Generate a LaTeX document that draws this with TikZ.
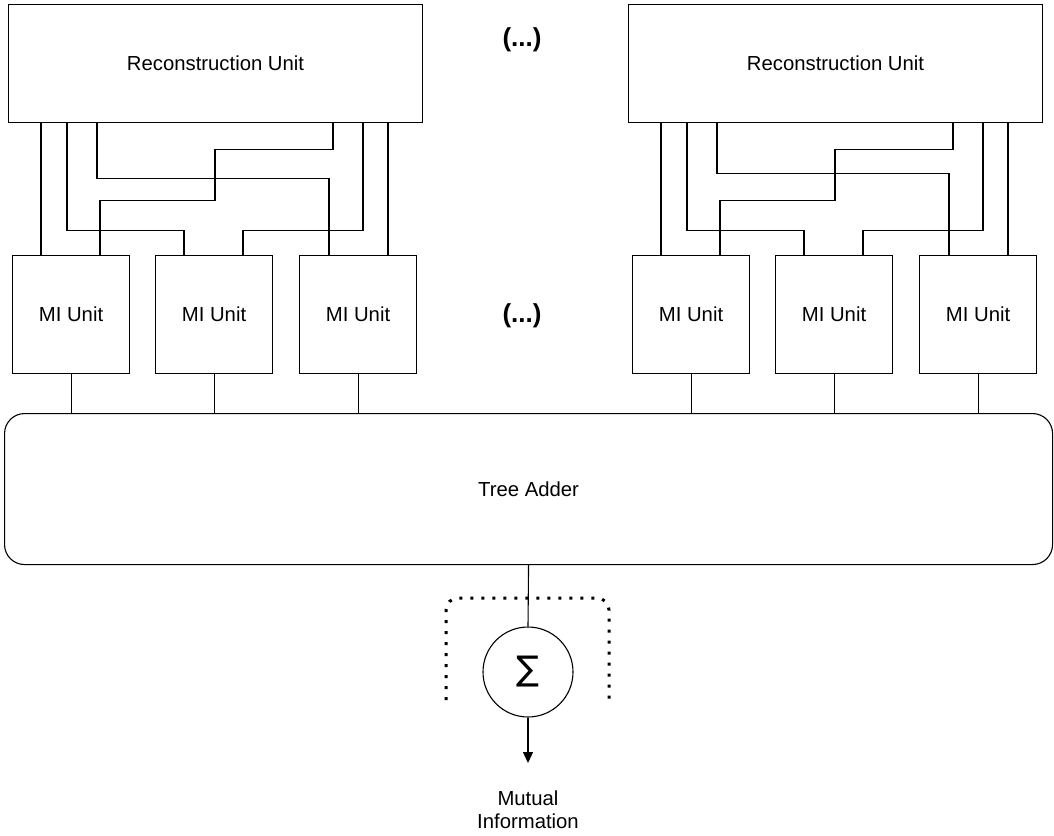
\documentclass[tikz,border=0pt]{standalone}
\usepackage{fontspec}
\setmainfont{Liberation Sans}
\newfontfamily\symfont{DejaVu Sans}
\usetikzlibrary{arrows.meta,calc}
\begin{document}
\begin{tikzpicture}[x=1pt,y=-1pt,
  line width=1.1pt,
  txt/.style={font=\fontsize{20.3}{24}\selectfont},
  rubox/.style={draw, txt, minimum width=414pt, minimum height=118pt, anchor=north west, inner sep=0pt},
  mibox/.style={draw, txt, minimum width=117pt, minimum height=118pt, anchor=north west, inner sep=0pt},
  dots/.style={font=\fontsize{26}{30}\selectfont\bfseries},
  wire/.style={line width=1.1pt},
  dotline/.style={line width=3pt, dash pattern=on 3pt off 8pt},
]
\useasboundingbox (0,0) rectangle (1054,835);

% Reconstruction units
\node[rubox] (rua) at (8,4) {Reconstruction Unit};
\node[rubox] (rub) at (628,4) {Reconstruction Unit};
\node[dots] (dotsa) at (522,40) {(...)};

% MI units
\node[mibox] (mia1) at (12,255) {MI Unit};
\node[mibox] (mia2) at (155,255) {MI Unit};
\node[mibox] (mia3) at (299,255) {MI Unit};
\node[mibox] (mib1) at (632,255) {MI Unit};
\node[mibox] (mib2) at (775,255) {MI Unit};
\node[mibox] (mib3) at (919,255) {MI Unit};
\node[dots] (dotsb) at (522,316) {(...)};

% Tree adder
\node[draw, txt, rounded corners=20pt, minimum width=1048pt, minimum height=151pt, anchor=north west, inner sep=0pt] (ta) at (4,413) {Tree Adder};

% Wiring
\foreach \u/\m in {a/55, b/50} {
  \path (ru\u.south west) ++(33,0) coordinate (p1) ++(26,0) coordinate (p2) ++(30,0) coordinate (p3)
        ++(236,0) coordinate (p4) ++(30,0) coordinate (p5) ++(25,0) coordinate (p6);
  \draw[wire] (p1) -- (p1 |- mi\u1.north);
  \draw[wire] (p2) -- ++(0,107) -| ([xshift=29pt]mi\u2.north west);
  \draw[wire] (p3) -- ++(0,\m) -| ([xshift=30pt]mi\u3.north west);
  \draw[wire] (p4) -- ++(0,26) -- ++(-118,0) -- ++(0,51) -| ([xshift=88pt]mi\u1.north west);
  \draw[wire] (p5) -- ++(0,107) -| ([xshift=88pt]mi\u2.north west);
  \draw[wire] (p6) -- (p6 |- mi\u3.north);
  \foreach \k in {1,2,3} {
    \draw[wire] (mi\u\k.south) -- (mi\u\k.south |- ta.north);
  }
}

% Summation
\node[draw, circle, minimum size=90pt, inner sep=0pt, line width=1.1pt] (sum) at (528,672) {\symfont\fontsize{34}{36}\selectfont\raisebox{1pt}{∑}};
\draw[wire] (ta.south) -- (sum.north);
\coordinate (out) at (528,763);
\draw[wire, -{Triangle[length=11pt,width=10pt]}] (sum.south) -- (out);
\node[txt, align=center, inner sep=0pt] (mutual) at (528,810) {Mutual\\[-1pt]Information};

% Dotted bracket
\coordinate (bl) at (446,700);
\coordinate (br) at (609,700);
\draw[dotline, rounded corners=12pt] (bl) |- ($(br)+(0,-102)$) -- (br);
\end{tikzpicture}
\end{document}
